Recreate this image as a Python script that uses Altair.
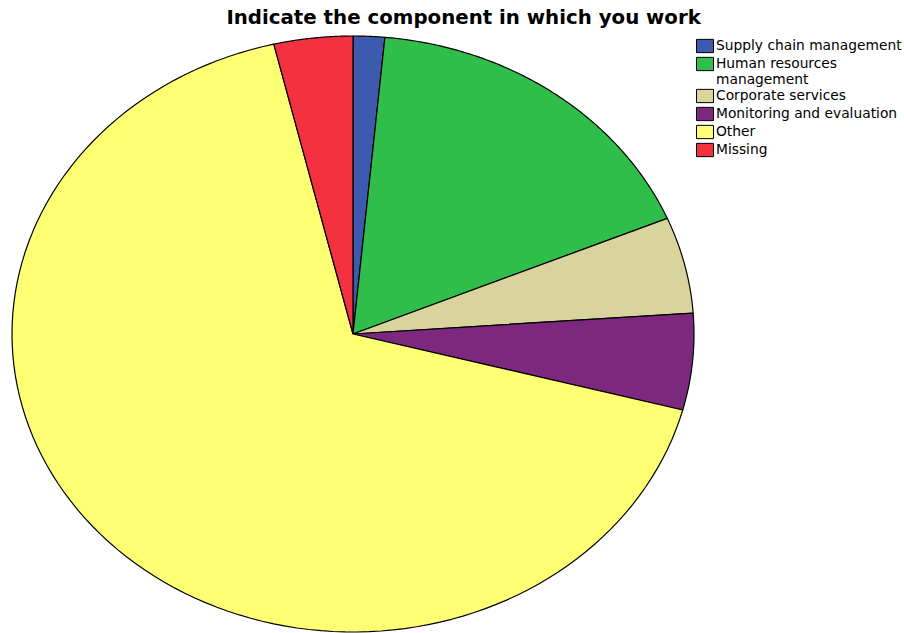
import altair as alt
import pandas as pd

categories = ["Supply chain management", "Human resources management", "Corporate services",
              "Monitoring and evaluation", "Other", "Missing"]
counts = [2, 23, 7, 7, 90, 5]
colors = ["#3e5aae", "#30be4b", "#d9d49d", "#7b287e", "#ffff73", "#f4313e"]

N = 120

df = pd.DataFrame({"category": categories, "count": counts, "idx": list(range(len(categories)))})

base = alt.Chart(df).transform_window(
    cum="sum(count)", sort=[alt.SortField("idx")]
).transform_joinaggregate(
    total="sum(count)"
).transform_calculate(
    t0="2*PI*(datum.cum - datum.count)/datum.total",
    t1="2*PI*datum.cum/datum.total",
    steps=f"sequence(0, {N + 3})",
).transform_flatten(
    ["steps"], as_=["k"]
).transform_calculate(
    ang=f"datum.t0 + (datum.t1 - datum.t0) * clamp(datum.k - 1, 0, {N}) / {N}",
    r=f"(datum.k == 0 || datum.k == {N + 2}) ? 0 : 1",
).transform_calculate(
    px="datum.r * sin(datum.ang)",
    py="datum.r * cos(datum.ang)",
)

chart = base.mark_line(filled=True, stroke="black", strokeWidth=1.2, interpolate="linear",
                       strokeJoin="round").encode(
    x=alt.X("px:Q", scale=alt.Scale(domain=[-1, 1], nice=False, zero=False), axis=None),
    y=alt.Y("py:Q", scale=alt.Scale(domain=[-1, 1], nice=False, zero=False), axis=None),
    order=alt.Order("k:Q"),
    detail="category:N",
    color=alt.Color("category:N", scale=alt.Scale(domain=categories, range=colors),
                    sort=categories,
                    legend=alt.Legend(
                        title=None, orient="none", legendX=684, legendY=1, padding=0,
                        symbolType="M-1,-0.78H1V0.78H-1Z", symbolSize=289,
                        symbolStrokeColor="black",
                        symbolStrokeWidth=1, symbolOpacity=1,
                        labelFont="DejaVu Sans", labelFontSize=13.8, labelColor="black",
                        labelLimit=300, rowPadding=0, labelOffset=2,
                        labelExpr="datum.label == 'Human resources management' ? ['Human resources', 'management'] : datum.label",
                    )),
).properties(
    width=682, height=596,
    title=alt.TitleParams("Indicate the component in which you work", font="DejaVu Sans",
                          fontSize=19.8, fontWeight="bold", color="black",
                          anchor="start", dx=215, offset=8),
    autosize=alt.AutoSizeParams(type="none"),
    padding={"left": 12, "top": 36, "right": 210, "bottom": 1},
    background="white",
).configure_view(stroke="transparent", strokeWidth=0)

chart.save("out.html", embed_options={"renderer": "svg", "actions": False})
